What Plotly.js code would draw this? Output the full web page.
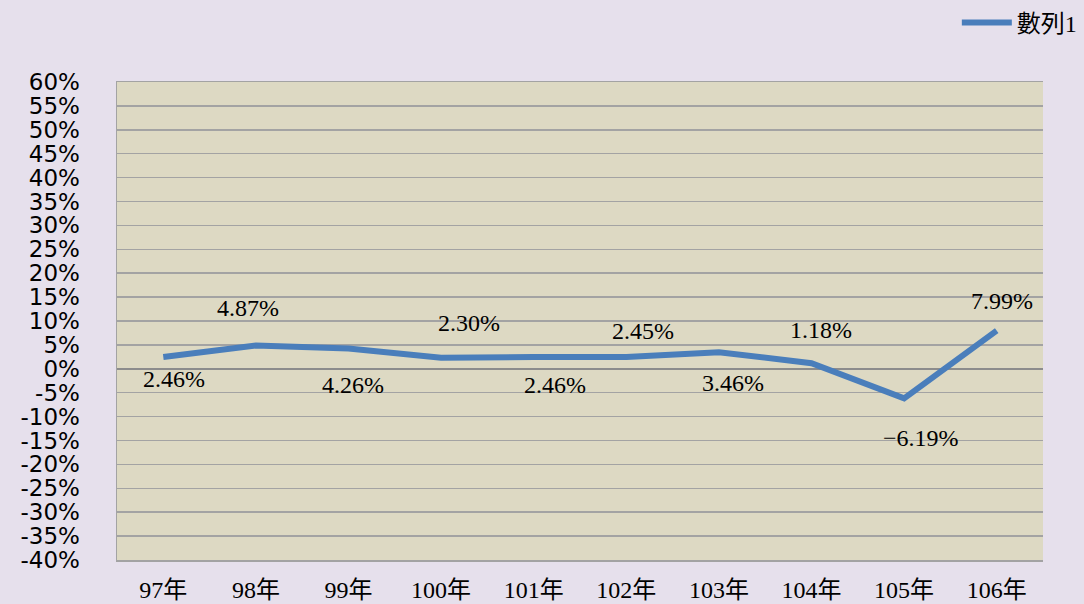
<!DOCTYPE html>
<html>
<head>
<meta charset="utf-8">
<script src="https://cdn.plot.ly/plotly-3.0.1.min.js"></script>
<style>html,body{margin:0;padding:0;background:#E6E0EC;}#chart{width:1084px;height:604px;}</style>
</head>
<body>
<div id="chart"></div>
<script>
const categories = ['97年','98年','99年','100年','101年','102年','103年','104年','105年','106年'];
const values = [2.46, 4.87, 4.26, 2.30, 2.46, 2.45, 3.46, 1.18, -6.19, 7.99];
const seriesName = '數列1';
const tickVals = [-40,-35,-30,-25,-20,-15,-10,-5,0,5,10,15,20,25,30,35,40,45,50,55,60];
const tickLabels = ['-40%','-35%','-30%','-25%','-20%','-15%','-10%','-5%','0%','5%','10%','15%','20%','25%','30%','35%','40%','45%','50%','55%','60%'];

// label placement offsets (pixels), as in the reference
const labelDx = [11, -8, 4, 28, 21, 17, 14, 9, 17, 5];
const labelDy = [-22, 38, -37, 35, -28, 26, -31, 33, -40, 30];

const serif = 'Liberation Serif, DejaVu Serif, Noto Sans CJK TC, serif';
const gridCol = '#A3A3A3';

const annotations = values.map((v, i) => ({
  x: categories[i], y: v, xref: 'x', yref: 'y',
  text: v.toFixed(2).replace('-', '−') + '%',
  showarrow: false, xshift: labelDx[i], yshift: labelDy[i],
  font: {family: serif, size: 24, color: '#000'}
}));

const boundaries = categories.map((c, i) => i - 0.5).concat([categories.length - 0.5]);

const trace = {
  x: categories, y: values, type: 'scatter', mode: 'lines', name: seriesName,
  line: {color: '#4A7EBB', width: 6}, hoverinfo: 'skip'
};

const layout = {
  width: 1084, height: 604,
  paper_bgcolor: '#E6E0EC', plot_bgcolor: '#DDD9C3',
  margin: {l: 117, r: 41, t: 82, b: 44, pad: 0, autoexpand: false},
  showlegend: true,
  legend: {xref: 'container', yref: 'container', x: 0.998, xanchor: 'right', y: 0.962, yanchor: 'middle',
           itemwidth: 50, bgcolor: 'rgba(0,0,0,0)', font: {family: serif, size: 24, color: '#000'}},
  xaxis: {
    type: 'category', range: [-0.5, categories.length - 0.5],
    showgrid: false, zeroline: false,
    showline: true, mirror: true, linecolor: gridCol, linewidth: 1.5,
    ticks: 'outside', ticklen: 8, tickcolor: 'rgba(0,0,0,0)',
    tickfont: {family: serif, size: 24, color: '#000'}
  },
  xaxis2: {
    overlaying: 'x', anchor: 'free', position: 0.4, side: 'bottom',
    range: [-0.5, categories.length - 0.5],
    tickmode: 'array', tickvals: boundaries,
    ticks: 'inside', ticklen: 6, tickcolor: '#8C8C8C', tickwidth: 1.2,
    showticklabels: false, showgrid: false, zeroline: false, showline: false
  },
  yaxis: {
    range: [-40, 60], tickmode: 'array', tickvals: tickVals, ticktext: tickLabels,
    showgrid: true, gridcolor: gridCol, gridwidth: 1.5,
    zeroline: true, zerolinecolor: '#8C8C8C', zerolinewidth: 1.5,
    showline: true, linecolor: gridCol, linewidth: 1.5,
    ticks: 'outside', ticklen: 31, tickcolor: 'rgba(0,0,0,0)',
    tickfont: {family: 'DejaVu Sans, sans-serif', size: 23, color: '#000'}
  },
  annotations: annotations
};

Plotly.newPlot('chart', [trace], layout, {displayModeBar: false, staticPlot: true});
</script>
</body>
</html>
